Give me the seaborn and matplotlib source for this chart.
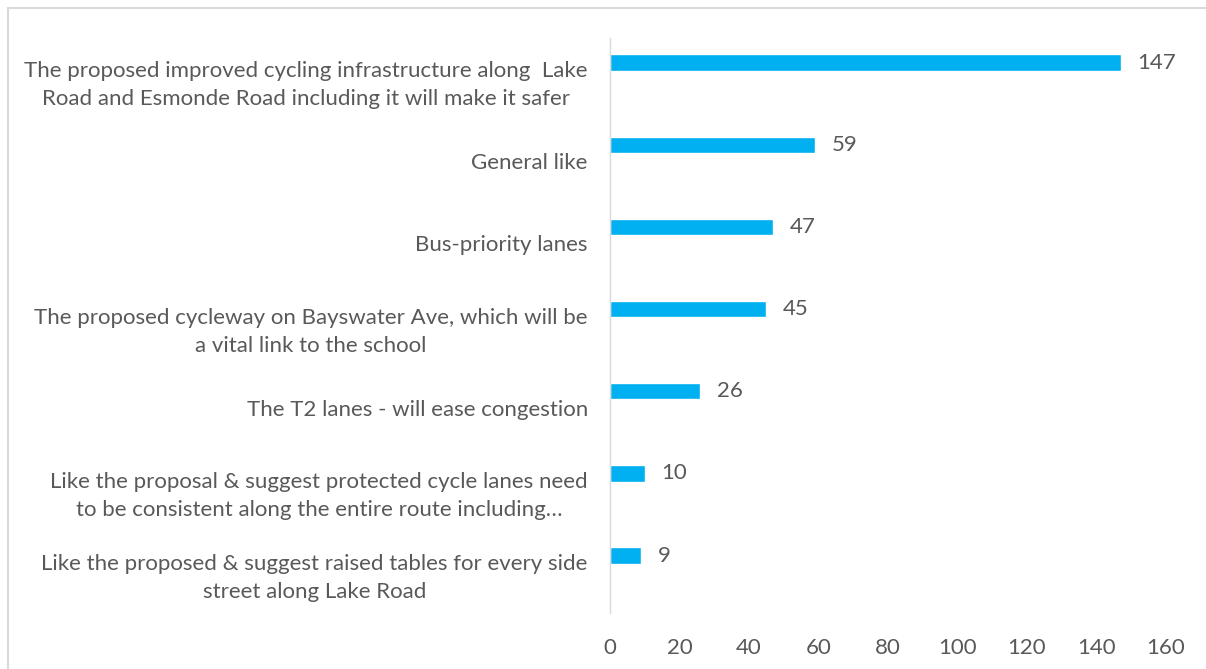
import numpy as np
import pandas as pd
import seaborn as sns
import matplotlib.pyplot as plt
from matplotlib.patches import Rectangle

# Data
categories = [
    'The proposed improved cycling infrastructure along  Lake\nRoad and Esmonde Road including it will make it safer',
    'General like',
    'Bus-priority lanes',
    'The proposed cycleway on Bayswater Ave, which will be\na vital link to the school',
    'The T2 lanes - will ease congestion',
    'Like the proposal & suggest protected cycle lanes need\nto be consistent along the entire route including…',
    'Like the proposed & suggest raised tables for every side\nstreet along Lake Road',
]
counts = [147, 59, 47, 45, 26, 10, 9]
x_ticks = [0, 20, 40, 60, 80, 100, 120, 140, 160]

df = pd.DataFrame({'category': categories, 'count': counts})

sns.set_style('white')
plt.rcParams['font.family'] = ['Lato', 'DejaVu Sans']
text_color = '#595959'
bar_color = '#00B0F0'
line_color = '#D9D9D9'
fs = 16

fig = plt.figure(figsize=(12.06, 6.69), dpi=100)
ax = fig.add_axes([610 / 1206, 1 - 613 / 669, (1166 - 610) / 1206, (613 - 38) / 669])

sns.barplot(data=df, y='category', x='count', orient='h', color=bar_color,
            width=0.2, saturation=1, ax=ax)

# labels sit slightly below the bars (Excel-style offset)
n = len(categories)
ax.set_yticks(np.arange(n) + 0.2)
ax.set_yticklabels(categories, fontsize=fs, color=text_color,
                   multialignment='center', linespacing=1.5)
ax.set_ylim(n - 0.5 + 0.2, -0.5 + 0.2)

ax.set_xlim(0, 160)
ax.set_xticks(x_ticks)
ax.set_xticklabels([str(t) for t in x_ticks], fontsize=fs, color=text_color)
ax.tick_params(axis='both', length=0)
ax.tick_params(axis='y', pad=16)
ax.tick_params(axis='x', pad=18)

ax.set_xlabel('')
ax.set_ylabel('')
for side in ['top', 'right', 'bottom']:
    ax.spines[side].set_visible(False)
ax.spines['left'].set_color(line_color)
ax.spines['left'].set_linewidth(1)

ax.bar_label(ax.containers[0], padding=12, fontsize=fs, color=text_color)

# chart border (only top and left edges visible)
fig.patches.append(Rectangle((8 / 1206, -0.1), 1.5, 1 - 8 / 669 + 0.1,
                             transform=fig.transFigure, fill=False,
                             edgecolor=line_color, linewidth=1.5, clip_on=False))

fig.savefig('out.png', dpi=100)
